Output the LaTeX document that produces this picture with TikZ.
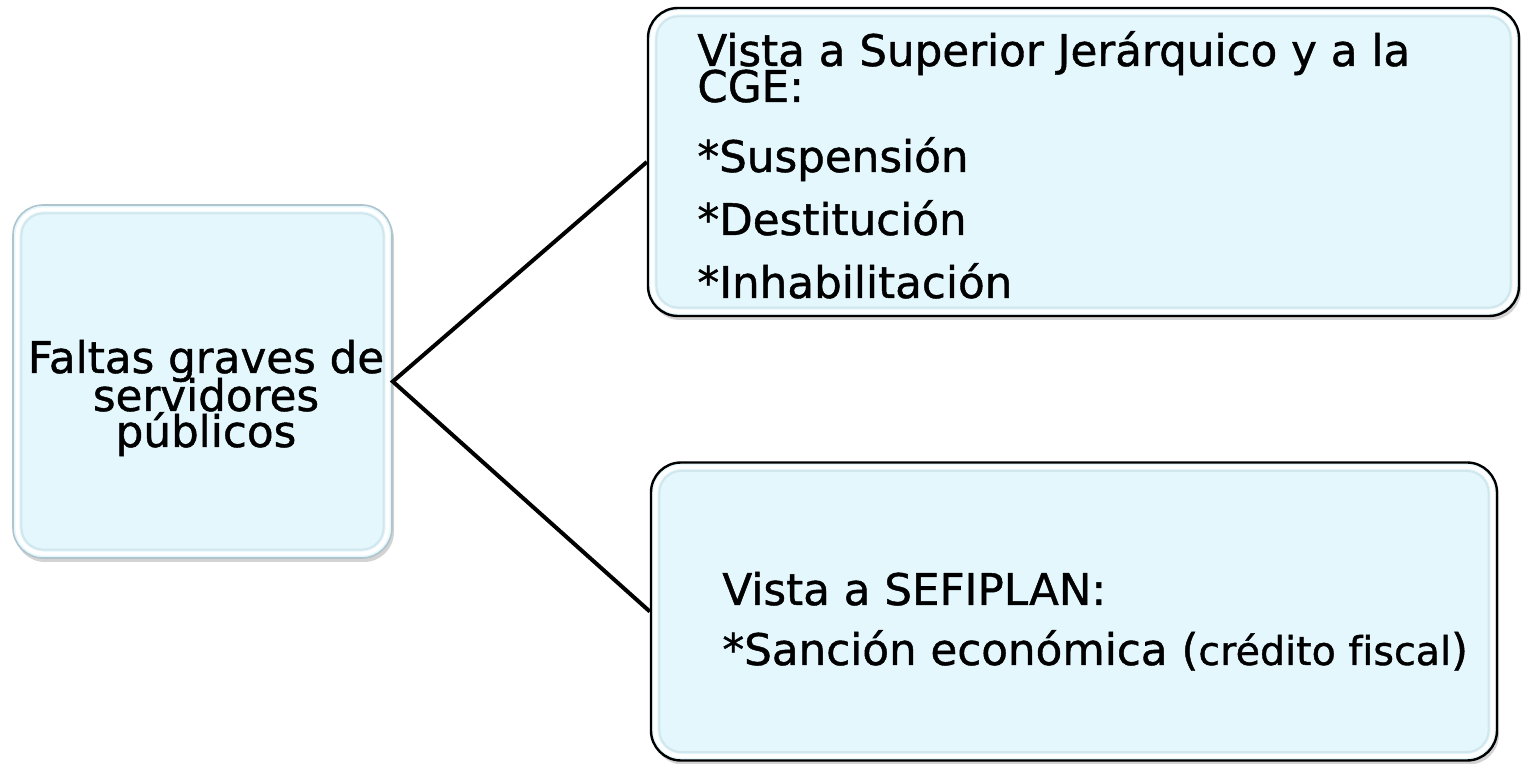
\documentclass[tikz,border=0pt]{standalone}
\usepackage{fontspec}
\setmainfont{DejaVu Sans}[FakeBold=1.0, Ligatures=NoCommon]
\usetikzlibrary{shadows}
\definecolor{boxfill}{HTML}{E3F7FD}
\definecolor{boxline}{HTML}{AFC4CC}
\definecolor{bevel}{HTML}{D2E6EE}
\newcommand{\bigtxt}{\fontsize{21.8}{26}\selectfont}
\newcommand{\smalltxt}{\fontsize{19.8}{23}\selectfont}
\tikzset{
  panel/.style={rectangle, rounded corners=15pt, fill=boxfill, draw=black, line width=1.2pt,
    drop shadow={opacity=0.35, shadow xshift=1pt, shadow yshift=-2pt},
    path picture={
      \draw[bevel, line width=1pt, rounded corners=11pt]
        ([shift={(4.2pt,-4.2pt)}]path picture bounding box.north west) rectangle
        ([shift={(-4.2pt,4.2pt)}]path picture bounding box.south east);
      \draw[white, line width=2pt, rounded corners=13pt]
        ([shift={(2.2pt,-2.2pt)}]path picture bounding box.north west) rectangle
        ([shift={(-2.2pt,2.2pt)}]path picture bounding box.south east);
    }},
  txt/.style={inner sep=0pt, font=\bigtxt},
  link/.style={line width=2pt, black}
}
\begin{document}
\begin{tikzpicture}[x=0.5pt, y=-0.5pt]
\useasboundingbox (0,0) rectangle (1522,764);
% boxes
\node (faltas) [panel, draw=boxline, line width=0.8pt, minimum width=189.5pt, minimum height=176.5pt] at (202.5,381.5) {};
\node (vistacge) [panel, minimum width=435.5pt, minimum height=154pt] at (1083.5,162) {};
\node (vistasef) [panel, minimum width=423pt, minimum height=149pt] at (1074,611.5) {};
% connectors
\draw [link] (vistacge.west) -- (faltas.east) -- (vistasef.west);
% left text
\node (f1) [txt, anchor=base] at (206,373) {Faltas graves de};
\node (f2) [txt, anchor=base] at (206,411) {servidores};
\node (f3) [txt, anchor=base] at (206,447) {públicos};
% top right text
\node (c1) [txt, anchor=base west] at (697,66) {Vista a Superior Jerárquico y a la};
\node (c2) [txt, anchor=base west] at (697,102) {CGE:};
\node (c3) [txt, anchor=base west] at (697,172) {*Suspensión};
\node (c4) [txt, anchor=base west] at (697,235) {*Destitución};
\node (c5) [txt, anchor=base west] at (697,298) {*Inhabilitación};
% bottom right text
\node (s1) [txt, anchor=base west] at (722,605) {Vista a SEFIPLAN:};
\node (s2) [txt, anchor=base west] at (722,665) {*Sanción económica ({\smalltxt crédito fiscal})};
\end{tikzpicture}
\end{document}
